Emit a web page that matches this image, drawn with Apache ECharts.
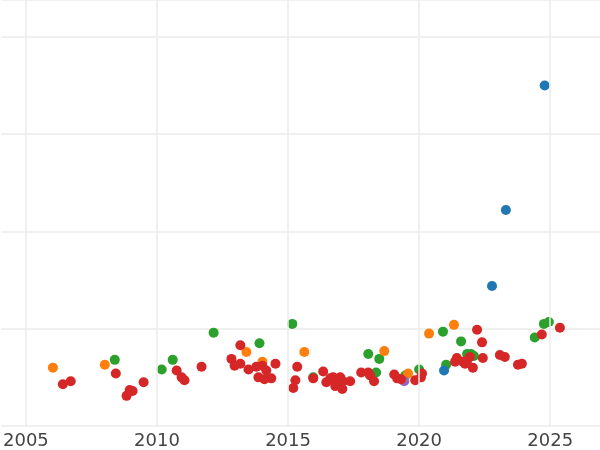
<!DOCTYPE html>
<html>
<head>
<meta charset="utf-8">
<script src="https://cdn.jsdelivr.net/npm/echarts@6/dist/echarts.min.js"></script>
<style>html,body{margin:0;padding:0;background:#fff}#chart{width:600px;height:450px}</style>
</head>
<body>
<div id="chart"></div>
<script>
// [year, value] pairs per group
const redPoints = [
    [2006.41,0.43],[2006.71,0.46],[2008.43,0.54],[2008.84,0.31],[2008.96,0.37],[2009.07,0.36],
    [2009.49,0.45],[2010.75,0.57],[2010.94,0.50],[2011.05,0.47],[2011.70,0.61],[2012.84,0.69],
    [2012.96,0.62],[2013.18,0.83],[2013.18,0.64],[2013.49,0.58],[2013.79,0.61],[2013.87,0.50],
    [2014.02,0.62],[2014.10,0.48],[2014.17,0.57],[2014.36,0.49],[2014.52,0.64],[2015.20,0.39],
    [2015.28,0.47],[2015.35,0.61],[2015.96,0.49],[2016.34,0.56],[2016.46,0.45],[2016.61,0.49],
    [2016.72,0.50],[2016.80,0.41],[2016.91,0.45],[2016.99,0.50],[2017.07,0.38],[2017.10,0.46],
    [2017.37,0.46],[2017.79,0.55],[2018.06,0.55],[2018.13,0.52],[2018.28,0.46],[2019.05,0.53],
    [2019.16,0.49],[2019.31,0.48],[2019.85,0.47],[2020.07,0.50],[2020.11,0.54],[2021.37,0.66],
    [2021.44,0.70],[2021.67,0.66],[2021.75,0.64],[2021.83,0.67],[2021.94,0.71],[2022.05,0.60],
    [2022.21,0.99],[2022.40,0.86],[2022.43,0.70],[2023.08,0.73],[2023.27,0.71],[2023.77,0.63],
    [2023.92,0.64],[2024.68,0.94],[2025.37,1.01]
];
const orangePoints = [
    [2006.03,0.60],[2008.01,0.63],[2013.41,0.76],[2014.02,0.66],[2015.62,0.76],
    [2018.67,0.77],[2019.58,0.54],[2020.38,0.95],[2021.33,1.04]
];
const greenPoints = [
    [2008.39,0.68],[2010.18,0.58],[2010.60,0.68],[2012.16,0.96],[2013.91,0.85],[2015.16,1.05],
    [2015.96,0.50],[2018.06,0.74],[2018.36,0.55],[2018.48,0.69],[2019.47,0.52],[2020.00,0.58],
    [2020.91,0.97],[2021.03,0.63],[2021.60,0.87],[2021.83,0.74],[2021.98,0.74],[2022.09,0.72],
    [2024.41,0.91],[2024.76,1.05],[2024.95,1.07]
];
const bluePoints = [[2024.79,3.50],[2023.31,2.22],[2022.78,1.44],[2020.95,0.57]];
const purplePoints = [[2019.43,0.46]];
const xTicks = [2005, 2010, 2015, 2020, 2025];

const chart = echarts.init(document.getElementById('chart'));

function scatter(data, color) {
    return {
        type: 'scatter',
        data: data,
        symbolSize: 10,
        itemStyle: { color: color, opacity: 1 }
    };
}

chart.setOption({
    animation: false,
    grid: { left: 0, right: 0, top: 0, bottom: 23 },
    xAxis: {
        type: 'value',
        min: 2004.05,
        max: 2026.9,
        axisLine: { show: false },
        axisTick: { show: false },
        axisLabel: {
            color: '#444',
            fontSize: 18,
            fontFamily: 'DejaVu Sans',
            margin: 6,
            customValues: xTicks,
            formatter: v => String(v)
        },
        splitLine: { show: false }
    },
    yAxis: {
        type: 'value',
        min: 0,
        max: 4.38,
        interval: 1,
        axisLine: { show: false },
        axisTick: { show: false },
        axisLabel: { show: false },
        splitLine: { show: true, lineStyle: { color: '#ebebeb', width: 1.5 } }
    },
    series: [
        {
            // vertical grid lines at the labelled years
            type: 'line',
            data: [],
            silent: true,
            markLine: {
                silent: true,
                symbol: 'none',
                label: { show: false },
                lineStyle: { color: '#ebebeb', width: 1.5, type: 'solid' },
                data: xTicks.map(x => ({ xAxis: x }))
            }
        },
        scatter(greenPoints, '#2ca02c'),
        scatter(orangePoints, '#ff7f0e'),
        scatter(bluePoints, '#1f77b4'),
        scatter(purplePoints, '#9467bd'),
        scatter(redPoints, '#d62728')
    ]
});
</script>
</body>
</html>
